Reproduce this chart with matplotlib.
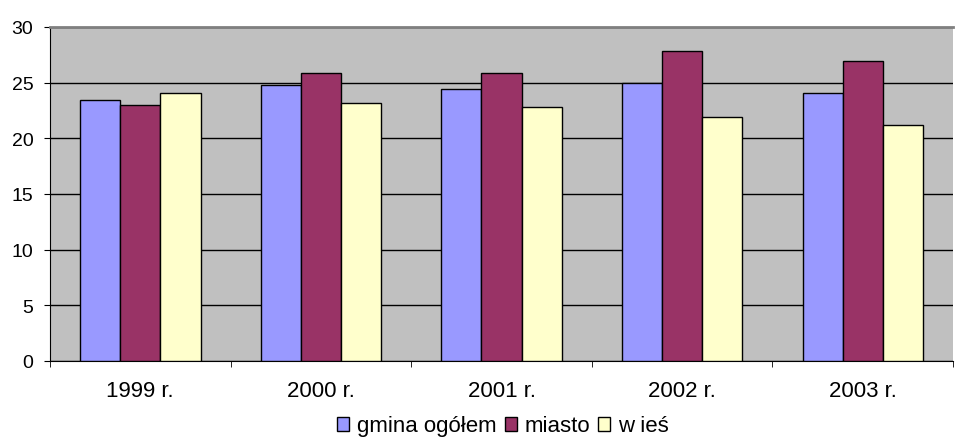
import matplotlib.pyplot as plt
import numpy as np

lata = ["1999 r.", "2000 r.", "2001 r.", "2002 r.", "2003 r."]
gmina = [23.4, 24.8, 24.45, 25.0, 24.1]
miasto = [23.0, 25.9, 25.9, 27.85, 26.95]
wies = [24.1, 23.2, 22.85, 21.95, 21.2]

plt.rcParams['font.family'] = ['Liberation Sans', 'DejaVu Sans']

fig = plt.figure(figsize=(9.57, 4.39), dpi=100)
ax = fig.add_axes([50 / 957, 77 / 439, 903 / 957, 334 / 439])
ax.set_facecolor("#C0C0C0")

x = np.arange(len(lata))
w = 1 / 4.5
serie = [(gmina, "gmina ogółem", "#9999FF"),
         (miasto, "miasto", "#993366"),
         (wies, "w ieś", "#FFFFCC")]
for i, (vals, lab, col) in enumerate(serie):
    ax.bar(x + (i - 1) * w, vals, w, color=col, edgecolor="black",
           linewidth=1, label=lab, zorder=3)

ax.set_xlim(-0.5, len(lata) - 0.5)
ax.set_ylim(0, 30)
ax.set_yticks(range(0, 31, 5))
ax.yaxis.grid(True, color="black", linewidth=1, zorder=1)
ax.set_axisbelow(True)

ax.set_xticks(x)
ax.set_xticklabels(lata, fontsize=16)
ax.set_xticks(np.arange(-0.5, len(lata)), minor=True)
ax.tick_params(axis="x", which="major", length=0, pad=14)
ax.tick_params(axis="x", which="minor", length=4.5, direction="out", color="black")
ax.tick_params(axis="y", length=4, direction="out", labelsize=14, pad=8)

ax.spines["right"].set_visible(False)
ax.spines["top"].set_color("#808080")
ax.spines["top"].set_linewidth(2)
ax.spines["left"].set_color("black")
ax.spines["bottom"].set_color("black")

ax.legend(loc="center", bbox_to_anchor=(453 / 903, -65 / 334), ncol=3,
          frameon=False, fontsize=16, handlelength=0.54, handleheight=0.6,
          handletextpad=0.36, columnspacing=0.35, borderaxespad=0,
          borderpad=0)

fig.savefig("out.png", dpi=100)
